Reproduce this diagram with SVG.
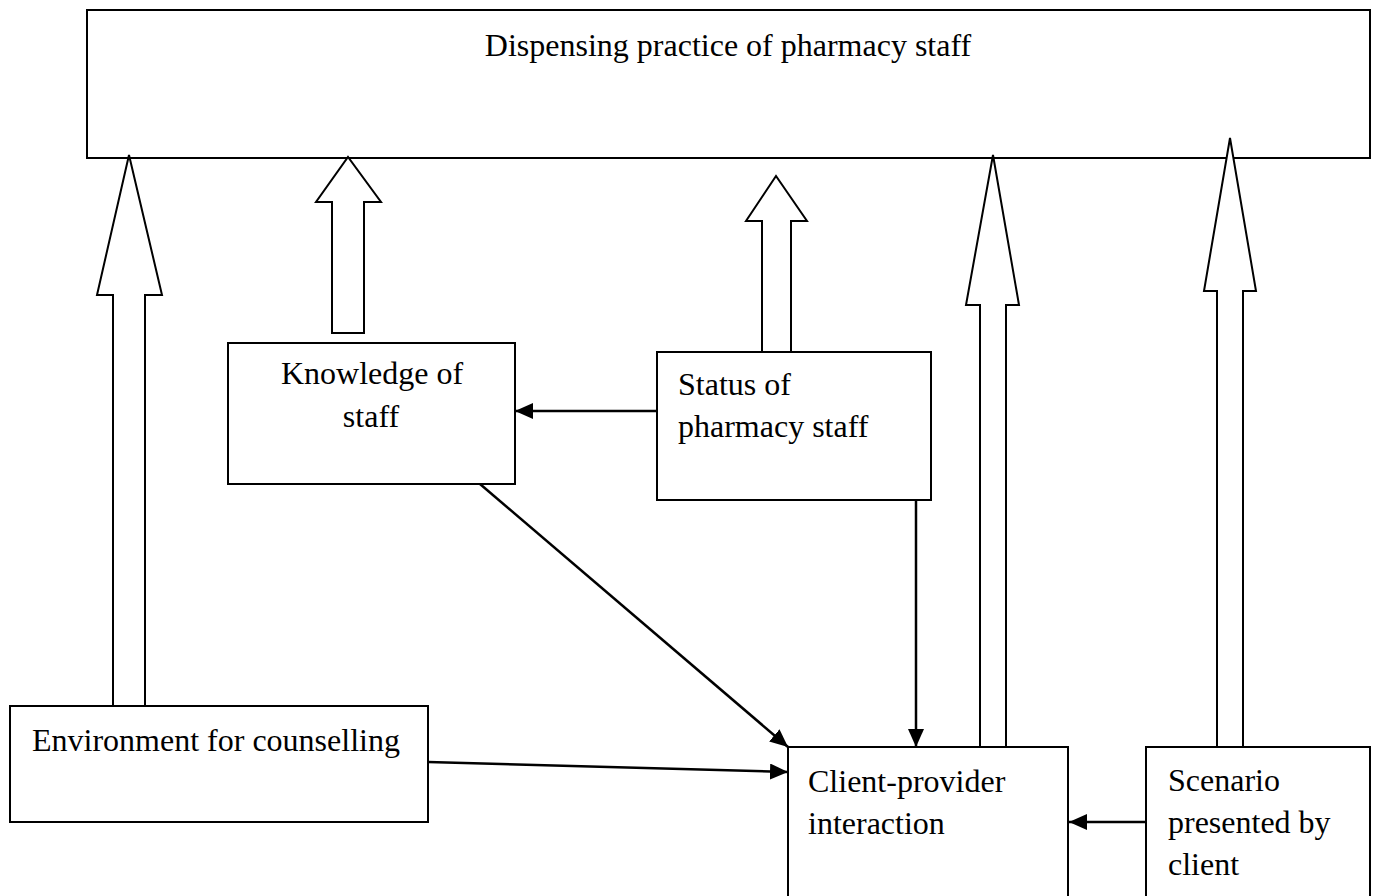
<svg xmlns="http://www.w3.org/2000/svg" width="1376" height="896" viewBox="0 0 1376 896">
<style>
.box{fill:#fff;stroke:#000;stroke-width:2}
.blk{fill:#fff;stroke:#000;stroke-width:2;stroke-linejoin:miter}
.con{fill:none;stroke:#000;stroke-width:2.5}
text{font-family:"Liberation Serif","Times New Roman",serif;font-size:32px;fill:#000}
</style>
<defs>
<marker id="a" viewBox="0 0 18 16" refX="18" refY="8" markerWidth="18" markerHeight="16" markerUnits="userSpaceOnUse" orient="auto">
<path d="M0,0 L18,8 L0,16 z" fill="#000"/>
</marker>
</defs>
<rect width="1376" height="896" fill="#fff"/>
<g id="dispensing">
<rect class="box" x="87" y="10" width="1283" height="148"/>
<text x="728" y="56" text-anchor="middle">Dispensing practice of pharmacy staff</text>
</g>
<g id="block-arrows">
<polygon class="blk" points="113,706 113,295 97,295 129,155 162,295 145,295 145,706"/>
<polygon class="blk" points="332,333 332,202 316,202 348,157 381,202 364,202 364,333"/>
<polygon class="blk" points="762,352 762,221 746,221 776,176 807,221 791,221 791,352"/>
<polygon class="blk" points="980,748 980,305 966,305 993,155 1019,305 1006,305 1006,748"/>
<polygon class="blk" points="1217,748 1217,291 1204,291 1230,138 1256,291 1243,291 1243,748"/>
</g>
<g id="knowledge">
<rect class="box" x="228" y="343" width="287" height="141"/>
<text x="372" y="384" text-anchor="middle">Knowledge of</text>
<text x="371" y="427" text-anchor="middle">staff</text>
</g>
<g id="status">
<rect class="box" x="657" y="352" width="274" height="148"/>
<text x="678" y="395">Status of</text>
<text x="678" y="437">pharmacy staff</text>
</g>
<g id="environment">
<rect class="box" x="10" y="706" width="418" height="116"/>
<text x="32" y="751">Environment for counselling</text>
</g>
<g id="client">
<rect class="box" x="788" y="747" width="280" height="160"/>
<text x="808" y="792">Client-provider</text>
<text x="808" y="834">interaction</text>
</g>
<g id="scenario">
<rect class="box" x="1146" y="747" width="224" height="160"/>
<text x="1168" y="791">Scenario</text>
<text x="1168" y="833">presented by</text>
<text x="1168" y="875">client</text>
</g>
<g id="connectors">
<line class="con" x1="657" y1="411" x2="515" y2="411" marker-end="url(#a)"/>
<line class="con" x1="480" y1="484" x2="788" y2="747" marker-end="url(#a)"/>
<line class="con" x1="916" y1="500" x2="916" y2="747" marker-end="url(#a)"/>
<line class="con" x1="428" y1="762" x2="788" y2="772" marker-end="url(#a)"/>
<line class="con" x1="1146" y1="822" x2="1069" y2="822" marker-end="url(#a)"/>
</g>
</svg>
